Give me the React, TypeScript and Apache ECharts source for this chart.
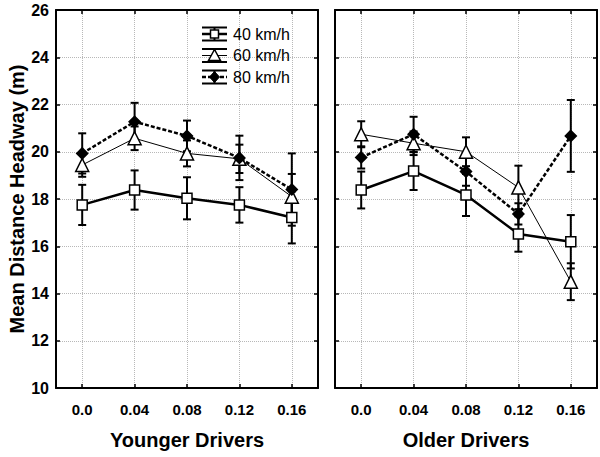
import React, { useEffect, useRef } from "react";
import * as echarts from "echarts";

const categories = ["0.0", "0.04", "0.08", "0.12", "0.16"];
const yTicks = { min: 10, max: 26, interval: 2 };

const young40 = [17.75, 18.38, 18.03, 17.75, 17.22];
const young40Err = [0.85, 0.83, 0.89, 0.75, 1.1];
const young60 = [19.44, 20.57, 19.93, 19.7, 18.1];
const young60Err = [0.5, 0.5, 0.55, 0.6, 0.96];
const young80 = [19.93, 21.27, 20.67, 19.74, 18.4];
const young80Err = [0.85, 0.8, 0.65, 0.94, 1.53];

const old40 = [18.38, 19.18, 18.17, 16.52, 16.19];
const old40Err = [0.78, 0.8, 0.89, 0.75, 1.13];
const old60 = [20.74, 20.36, 20.0, 18.49, 14.5];
const old60Err = [0.55, 0.5, 0.61, 0.92, 0.78];
const old80 = [19.76, 20.74, 19.16, 17.37, 20.67];
const old80Err = [0.47, 0.74, 0.6, 0.45, 1.52];

const seriesNames = ["40 km/h", "60 km/h", "80 km/h"];
const panelNames = ["Younger Drivers", "Older Drivers"];

const FONT = 'Arial, "Liberation Sans", sans-serif';

const styles = [
  { symbol: "rect", size: 10, fill: "#fff", lineWidth: 2.5, lineType: "solid" as any },
  { symbol: "triangle", size: 13, fill: "#fff", lineWidth: 1, lineType: "solid" as any },
  { symbol: "diamond", size: 11, fill: "#000", lineWidth: 2.5, lineType: [4, 2] as any },
];

function errorSeries(means: number[], errs: number[], gi: number) {
  return {
    type: "custom",
    xAxisIndex: gi * 2,
    yAxisIndex: gi * 2,
    z: 2,
    silent: true,
    encode: { x: 0, y: [1, 2] },
    data: means.map((m, i) => [i, m - errs[i], m + errs[i]]),
    renderItem: (params: any, api: any) => {
      const x = api.value(0);
      const lo = api.value(1);
      const hi = api.value(2);
      const p1 = api.coord([x, hi]);
      const p2 = api.coord([x, lo]);
      const w = 4;
      const st = { stroke: "#000", lineWidth: 2 };
      return {
        type: "group",
        children: [
          { type: "line", shape: { x1: p1[0], y1: p1[1], x2: p2[0], y2: p2[1] }, style: st },
          { type: "line", shape: { x1: p1[0] - w, y1: p1[1], x2: p1[0] + w, y2: p1[1] }, style: st },
          { type: "line", shape: { x1: p2[0] - w, y1: p2[1], x2: p2[0] + w, y2: p2[1] }, style: st },
        ],
      };
    },
  };
}

function lineSeries(means: number[], k: number, gi: number) {
  const s = styles[k];
  return {
    type: "line",
    name: seriesNames[k],
    xAxisIndex: gi * 2,
    yAxisIndex: gi * 2,
    z: 3 + k,
    data: means,
    symbol: s.symbol,
    symbolSize: s.size,
    showSymbol: true,
    lineStyle: { color: "#000", width: s.lineWidth, type: s.lineType },
    itemStyle: { color: s.fill, borderColor: "#000", borderWidth: 1.5 },
  };
}

function legendGraphic() {
  const rows = [34, 55.5, 77];
  const els: any[] = [];
  const cx = 214.5;
  rows.forEach((y, k) => {
    const st = { stroke: "#000", lineWidth: 2 };
    els.push({ type: "line", shape: { x1: 202, y1: y - 6.5, x2: 227, y2: y - 6.5 }, style: st, z: 100 });
    els.push({ type: "line", shape: { x1: 202, y1: y + 6.5, x2: 227, y2: y + 6.5 }, style: st, z: 100 });
    els.push({ type: "line", shape: { x1: cx, y1: y - 6.5, x2: cx, y2: y + 6.5 }, style: st, z: 100 });
    els.push({
      type: "line",
      shape: { x1: 202, y1: y, x2: 227, y2: y },
      style: { stroke: "#000", lineWidth: styles[k].lineWidth, lineDash: k === 2 ? [4, 2] : null },
      z: 100,
    });
    if (k === 0) {
      els.push({ type: "rect", shape: { x: cx - 4, y: y - 4, width: 8, height: 8 }, style: { fill: "#fff", stroke: "#000", lineWidth: 1.5 }, z: 101 });
    } else if (k === 1) {
      els.push({ type: "polygon", shape: { points: [[cx, y - 6], [cx - 6, y + 5], [cx + 6, y + 5]] }, style: { fill: "#fff", stroke: "#000", lineWidth: 1.5 }, z: 101 });
    } else {
      els.push({ type: "polygon", shape: { points: [[cx, y - 5.5], [cx + 5, y], [cx, y + 5.5], [cx - 5, y]] }, style: { fill: "#000", stroke: "#000", lineWidth: 1 }, z: 101 });
    }
    els.push({
      type: "text",
      x: 233,
      y: y,
      z: 101,
      style: { text: seriesNames[k], fill: "#000", font: `16px ${FONT}`, textVerticalAlign: "middle", verticalAlign: "middle" },
    });
  });
  return els;
}

export default function App() {
  const ref = useRef<HTMLDivElement>(null);
  useEffect(() => {
    if (!ref.current) return;
    const chart = echarts.init(ref.current, null, { renderer: "svg" });
    const grids = [
      { left: 56, top: 10, width: 262, height: 378 },
      { left: 335, top: 10, width: 262, height: 378 },
    ];
    const xAxis: any[] = [];
    const yAxis: any[] = [];
    grids.forEach((g, gi) => {
      xAxis.push({
        gridIndex: gi,
        type: "category",
        data: categories,
        position: "bottom",
        boundaryGap: true,
        name: panelNames[gi],
        nameLocation: "middle",
        nameGap: 42,
        nameTextStyle: { fontFamily: FONT, fontWeight: "bold", fontSize: 20, color: "#000" },
        axisLine: { show: true, lineStyle: { color: "#000", width: 2 } },
        axisTick: { show: true, inside: true, alignWithLabel: true, length: 4, lineStyle: { color: "#000", width: 1.5 } },
        axisLabel: { fontFamily: FONT, fontWeight: "bold", fontSize: 15, color: "#000", margin: 14 },
        splitLine: { show: true, alignWithLabel: true, lineStyle: { color: "#b8b8b8", type: "dotted", width: 1 } },
      });
      xAxis.push({
        gridIndex: gi,
        type: "category",
        data: categories,
        position: "top",
        boundaryGap: true,
        axisLine: { show: true, lineStyle: { color: "#000", width: 2 } },
        axisTick: { show: true, inside: true, alignWithLabel: true, length: 4, lineStyle: { color: "#000", width: 1.5 } },
        axisLabel: { show: false },
        splitLine: { show: false },
      });
      yAxis.push({
        gridIndex: gi,
        type: "value",
        min: yTicks.min,
        max: yTicks.max,
        interval: yTicks.interval,
        position: "left",
        name: gi === 0 ? "Mean Distance Headway (m)" : "",
        nameLocation: "middle",
        nameGap: 28,
        nameRotate: 90,
        nameTextStyle: { fontFamily: FONT, fontWeight: "bold", fontSize: 20, color: "#000" },
        axisLine: { show: true, lineStyle: { color: "#000", width: 2 } },
        axisTick: { show: true, inside: true, length: 4, lineStyle: { color: "#000", width: 1.5 } },
        axisLabel: { show: gi === 0, fontFamily: FONT, fontWeight: "bold", fontSize: 16, color: "#000", margin: 7 },
        splitLine: { show: true, lineStyle: { color: "#b8b8b8", type: "dotted", width: 1 } },
      });
      yAxis.push({
        gridIndex: gi,
        type: "value",
        min: yTicks.min,
        max: yTicks.max,
        interval: yTicks.interval,
        position: "right",
        axisLine: { show: true, lineStyle: { color: "#000", width: 2 } },
        axisTick: { show: true, inside: true, length: 4, lineStyle: { color: "#000", width: 1.5 } },
        axisLabel: { show: false },
        splitLine: { show: false },
      });
    });
    const panels = [
      { means: [young40, young60, young80], errs: [young40Err, young60Err, young80Err] },
      { means: [old40, old60, old80], errs: [old40Err, old60Err, old80Err] },
    ];
    const series: any[] = [];
    panels.forEach((p, gi) => {
      p.means.forEach((m, k) => {
        series.push(errorSeries(m, p.errs[k], gi));
      });
      p.means.forEach((m, k) => {
        series.push(lineSeries(m, k, gi));
      });
    });
    chart.setOption({
      animation: false,
      backgroundColor: "#fff",
      grid: grids.map((g) => ({ ...g, containLabel: false })),
      xAxis,
      yAxis,
      series,
      graphic: legendGraphic(),
    });
    return () => chart.dispose();
  }, []);
  return <div ref={ref} style={{ position: "fixed", left: 0, top: 0, width: 600, height: 457 }} />;
}
